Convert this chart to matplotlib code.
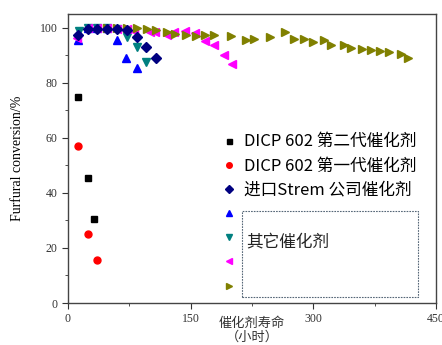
import numpy as np
import matplotlib.pyplot as plt
from matplotlib.patches import Rectangle

# data (hours, conversion %)
sq_x = [12, 24, 32]
sq_y = [75, 45.5, 30.5]

ci_x = [12, 24, 36]
ci_y = [57, 25, 15.5]

dia_x = [12, 24, 36, 48, 60, 72, 84, 96, 108]
dia_y = [97.3, 99.5, 99.5, 99.5, 99.4, 99.1, 96.7, 93.1, 89.0]

up_x = [12, 24, 36, 48, 60, 71, 84]
up_y = [95.7, 99.8, 99.8, 99.8, 95.7, 89.0, 85.3]

dn_x = [13, 24, 36, 48, 60, 72, 84, 96]
dn_y = [99.0, 99.8, 99.8, 99.8, 99.6, 96.6, 93.0, 87.5]

lt_x = [11, 24, 36, 48, 60, 72, 81, 100, 107, 121, 130, 143, 155, 167, 178, 191, 201]
lt_y = [96.4, 100, 100, 99.8, 99.6, 99.4, 98.8, 98.5, 98.3, 97.3, 98.6, 98.9, 98.2, 95.3, 93.6, 90.2, 86.8]

rt_x = [48, 60, 72, 84, 97, 108, 121, 131, 144, 157, 168, 178, 199, 218, 227, 247, 265,
        276, 288, 299, 313, 322, 337, 346, 360, 371, 382, 393, 407, 416]
rt_y = [100, 100, 100, 100, 99.6, 99.2, 98.4, 97.9, 97.5, 97.1, 97.4, 97.4, 97.0, 95.4, 96.1,
        96.7, 98.3, 95.8, 95.9, 95.0, 95.4, 93.7, 93.7, 92.5, 92.3, 91.8, 91.4, 91.1, 90.3, 88.9]

labels = ['DICP 602 第二代催化剂', 'DICP 602 第一代催化剂', '进口Strem 公司催化剂', '', '', '', '']
other_label = '其它催化剂'

#------------------------------------------------------------------------------#
cjk = ['Noto Sans CJK SC', 'DejaVu Sans']
serif = ['Liberation Serif', 'DejaVu Serif']

fig = plt.figure(figsize=(4.42, 3.45), dpi=100)
ax = fig.add_axes([0.1538, 0.1217, 0.8326, 0.8377])

h_sq, = ax.plot(sq_x, sq_y, 's', color='black', ms=4.5, ls='none')
h_ci, = ax.plot(ci_x, ci_y, 'o', color='red', ms=5, ls='none')
h_up, = ax.plot(up_x, up_y, '^', color='blue', ms=6, ls='none')
h_dn, = ax.plot(dn_x, dn_y, 'v', color='#008080', ms=6, ls='none')
h_lt, = ax.plot(lt_x, lt_y, '<', color='magenta', ms=6, ls='none')
h_rt, = ax.plot(rt_x, rt_y, '>', color='#808000', ms=6, ls='none')
h_dia, = ax.plot(dia_x, dia_y, 'D', color='#000080', ms=5.5, ls='none')

ax.set_xlim(0, 450)
ax.set_ylim(0, 105)
ax.set_xticks([0, 150, 300, 450])
ax.set_xticks([75, 225, 375], minor=True)
ax.set_yticks([0, 20, 40, 60, 80, 100])
ax.set_yticks([10, 30, 50, 70, 90], minor=True)
ax.tick_params(which='both', direction='out', colors='#333333', labelsize=8.5)
ax.tick_params(which='major', length=4)
ax.tick_params(which='minor', length=2.5)
for lb in ax.get_xticklabels() + ax.get_yticklabels():
    lb.set_family(serif)
for s in ax.spines.values():
    s.set_color('#444444')
    s.set_linewidth(1)

ax.set_ylabel('Furfural conversion/%', family=serif, fontsize=10, labelpad=11)

# x label sits in the plot's lower margin, partly cut by the figure edge as in the original
ax.text(0.5, -0.05, '催化剂寿命\n（小时）', transform=ax.transAxes, family=cjk,
        fontsize=9.5, color='#333333', ha='center', va='top', linespacing=1.05)

leg = ax.legend([h_sq, h_ci, h_dia, h_up, h_dn, h_lt, h_rt], labels,
                loc='upper left', bbox_to_anchor=(0.40, 0.61), frameon=False,
                prop={'family': cjk, 'size': 12}, handlelength=0.8,
                handletextpad=0.5, labelspacing=0.43, borderaxespad=0,
                markerscale=0.8)

ax.add_patch(Rectangle((0.472, 0.022), 0.48, 0.297, transform=ax.transAxes,
                       fill=False, ls=(0, (1.5, 1)), lw=0.8, ec='#556677'))
ax.text(0.484, 0.211, other_label, transform=ax.transAxes, family=cjk,
        fontsize=12, color='#222222', va='center')

plt.savefig('out.png', dpi=100)
